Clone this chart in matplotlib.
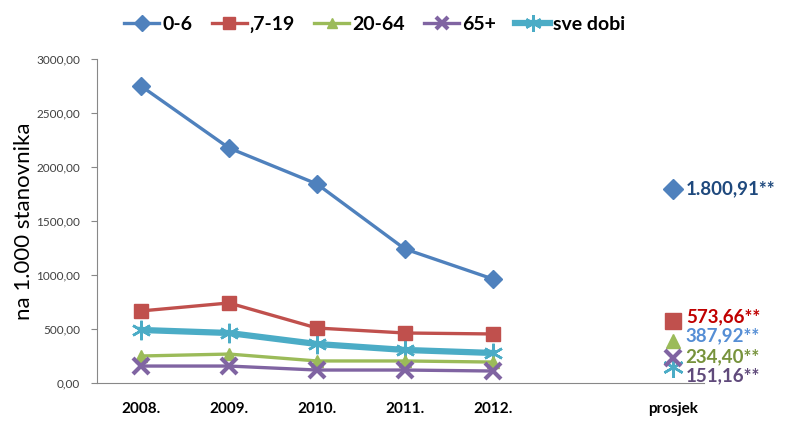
import numpy as np
import matplotlib.pyplot as plt

plt.rcParams["font.family"] = ["Lato", "DejaVu Sans"]

# --- data ---
years = ["2008.", "2009.", "2010.", "2011.", "2012."]
avg_label = "prosjek"

s_0_6 = [2750, 2176, 1843, 1241, 963]
s_7_19 = [667, 741, 509, 463, 454]
s_20_64 = [250, 268, 204, 204, 194]
s_65 = [157, 157, 120, 120, 111]
s_all = [491, 463, 361, 306, 278]

avg_values = [1800.91, 573.66, 387.92, 234.40, 151.16]
avg_texts = ["1.800,91**", "573,66**", "387,92**", "234,40**", "151,16**"]

names = ["0-6", "\u201a7-19", "20-64", "65+", "sve dobi"]
series = [s_0_6, s_7_19, s_20_64, s_65, s_all]

# --- styles ---
colors = ["#4F81BD", "#C0504D", "#9BBB59", "#8064A2", "#4BACC6"]
text_colors = ["#1F497D", "#C00000", "#558ED5", "#77933C", "#604A7B"]
markers = ["D", "s", "^", "x", (6, 2, 0)]
msizes = [9, 10, 9, 11, 14]
mews = [1, 1, 1, 3, 1.8]
lws = [2.4, 2.4, 2.4, 2.4, 4.5]
text_dy = [0, 3, 4, 1, -6.5]   # label offsets in points
zord = [4, 4, 3, 5, 2]

fig = plt.figure(figsize=(7.89, 4.21), dpi=100)
ax = fig.add_axes([97 / 789, 1 - 383 / 421, 607 / 789, 324 / 421])

x = np.arange(len(years))
x_avg = 6.05

handles = []
for i, s in enumerate(series):
    h, = ax.plot(x, s, color=colors[i], lw=lws[i], marker=markers[i],
                 ms=msizes[i], mew=mews[i], mec=colors[i], mfc=colors[i],
                 label=names[i], zorder=zord[i])
    handles.append(h)
    # average marker
    ax.plot([x_avg], [avg_values[i]], marker=markers[i], ms=msizes[i] + 1,
            mew=mews[i], color=colors[i], ls="none", clip_on=False,
            zorder=zord[i])
    ax.annotate(avg_texts[i], (x_avg, avg_values[i]), xytext=(9, text_dy[i]),
                textcoords="offset points", va="center", ha="left",
                fontsize=13.5, fontweight="bold", color=text_colors[i],
                annotation_clip=False)

ax.set_xlim(-0.5, 6.4)
ax.set_ylim(0, 3000)
ax.set_yticks(np.arange(0, 3001, 500))
ax.set_yticklabels([f"{v:.2f}".replace(".", ",") for v in np.arange(0, 3001, 500)],
                   fontsize=8.5, color="#404040")
ax.set_xticks(list(x) + [x_avg])
ax.set_xticklabels(years + [avg_label], fontsize=11, fontweight="bold")
ax.tick_params(axis="x", length=0, pad=14)
ax.tick_params(axis="y", length=4, direction="out", color="#888888", pad=8)

for sp in ["top", "right"]:
    ax.spines[sp].set_visible(False)
ax.spines["left"].set_color("#888888")
ax.spines["bottom"].set_color("#888888")

ax.set_ylabel("na 1.000 stanovnika", fontsize=16, labelpad=2)

fig.legend(handles=handles, loc="upper center", bbox_to_anchor=(0.475, 1.0),
           ncol=5, frameon=False, prop={"size": 14, "weight": "bold"},
           handlelength=1.8, handletextpad=0.15, columnspacing=1.0,
           borderaxespad=0.4, markerscale=0.85)

fig.savefig("out.png", dpi=100)
